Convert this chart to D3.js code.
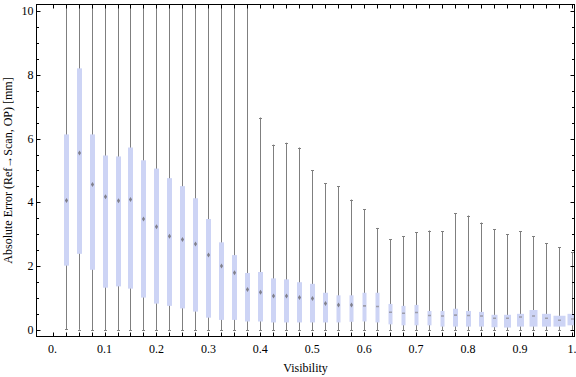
<!DOCTYPE html>
<html>
<head>
<meta charset="utf-8">
<script src="https://cdn.jsdelivr.net/npm/d3@7"></script>
<style>
  body { margin: 0; background: #fff; }
  svg { display: block; }
  text { font-family: "Liberation Serif", "Times New Roman", serif; fill: #000; }
</style>
</head>
<body>
<div id="chart"></div>
<script>
// visibility bins (x) and box-whisker statistics (mm)
const visibility = [0.025, 0.05, 0.075, 0.1, 0.125, 0.15, 0.175, 0.2, 0.225, 0.25,
                    0.275, 0.3, 0.325, 0.35, 0.375, 0.4, 0.425, 0.45, 0.475, 0.5,
                    0.525, 0.55, 0.575, 0.6, 0.625, 0.65, 0.675, 0.7, 0.725, 0.75,
                    0.775, 0.8, 0.825, 0.85, 0.875, 0.9, 0.925, 0.95, 0.975, 1.0];
const whiskerLow = [0.03, 0.01, 0, 0, 0, 0, 0, 0, 0, 0,
                    0, 0, 0, 0, 0, 0, 0, 0, 0, 0,
                    0, 0, 0, 0, 0, 0, 0, 0, 0, 0,
                    0, 0, 0, 0, 0, 0, 0, 0, 0, 0];
const q1 = [2.02, 2.39, 1.89, 1.33, 1.37, 1.30, 1.02, 0.83, 0.76, 0.68,
            0.58, 0.39, 0.32, 0.32, 0.27, 0.27, 0.24, 0.24, 0.24, 0.24,
            0.24, 0.24, 0.26, 0.27, 0.24, 0.18, 0.15, 0.15, 0.15, 0.11,
            0.11, 0.11, 0.11, 0.09, 0.08, 0.11, 0.11, 0.11, 0.11, 0.15];
const median = [4.06, 5.55, 4.56, 4.18, 4.05, 4.09, 3.48, 3.24, 2.94, 2.84,
                2.70, 2.35, 2.01, 1.80, 1.27, 1.19, 1.07, 1.07, 1.02, 0.99,
                0.83, 0.79, 0.79, 0.76, 0.74, 0.56, 0.53, 0.55, 0.46, 0.44,
                0.47, 0.46, 0.44, 0.37, 0.37, 0.41, 0.44, 0.37, 0.31, 0.35];
const q3 = [6.13, 8.20, 6.13, 5.47, 5.44, 5.72, 5.32, 5.06, 4.76, 4.51,
            4.13, 3.48, 2.75, 2.35, 1.79, 1.82, 1.62, 1.59, 1.50, 1.45,
            1.17, 1.09, 1.09, 1.17, 1.17, 0.82, 0.76, 0.79, 0.60, 0.60,
            0.67, 0.60, 0.57, 0.48, 0.48, 0.51, 0.63, 0.51, 0.45, 0.51];
// first bins run off the top of the plot
const whiskerHigh = [10.8, 10.8, 10.8, 10.8, 10.8, 10.8, 10.8, 10.8, 10.8, 10.8,
                     10.8, 10.8, 10.8, 10.8, 10.8, 6.66, 5.81, 5.87, 5.72, 5.00,
                     4.60, 4.50, 4.09, 3.78, 3.20, 2.85, 2.94, 3.07, 3.12, 3.09,
                     3.66, 3.59, 3.37, 3.16, 3.00, 3.09, 2.94, 2.72, 2.59, 2.44];

const xTickLabels = ["0.", "0.1", "0.2", "0.3", "0.4", "0.5", "0.6", "0.7", "0.8", "0.9", "1."];
const xTickValues = [0, 0.1, 0.2, 0.3, 0.4, 0.5, 0.6, 0.7, 0.8, 0.9, 1.0];
const yTickValues = [0, 2, 4, 6, 8, 10];

const W = 576, H = 377;
const m = {left: 36.5, right: 574.5, top: 4.5, bottom: 336.5};

// drawn box widths (px) as in the original rendering
const boxPx = [5, 5, 5, 5, 5, 5, 5, 5, 5, 5, 5, 5, 5, 5, 5, 5, 5, 5, 5, 5,
               5, 4, 4, 4, 4, 4, 4, 4, 4, 4, 5, 5, 5, 6, 7, 7, 8, 9, 12, 10];

const svg = d3.select("#chart").append("svg")
    .attr("width", W).attr("height", H);

const x = d3.scaleLinear().domain([-0.031, 1.005]).range([m.left, m.right]);
const y = d3.scaleLinear().domain([-0.2, 10.2]).range([m.bottom, m.top]);

svg.append("defs").append("clipPath").attr("id", "plotclip")
  .append("rect").attr("x", m.left).attr("y", m.top)
  .attr("width", m.right - m.left).attr("height", m.bottom - m.top);

const data = visibility.map((v, i) => ({
  v, lo: whiskerLow[i], q1: q1[i], med: median[i], q3: q3[i], hi: whiskerHigh[i], w: boxPx[i]
}));

const plot = svg.append("g").attr("clip-path", "url(#plotclip)");
const whiskerColor = "#7f7f7f";

const g = plot.selectAll(".bw").data(data).join("g").attr("class", "bw");

// whisker lines
g.append("line")
  .attr("x1", d => Math.round(x(d.v)) + 0.5).attr("x2", d => Math.round(x(d.v)) + 0.5)
  .attr("y1", d => y(d.lo)).attr("y2", d => y(d.hi))
  .attr("stroke", whiskerColor).attr("stroke-width", 1);

// caps
["lo", "hi"].forEach(k => {
  g.append("line")
    .attr("x1", d => Math.round(x(d.v)) - 1).attr("x2", d => Math.round(x(d.v)) + 2)
    .attr("y1", d => Math.round(y(d[k])) + 0.5).attr("y2", d => Math.round(y(d[k])) + 0.5)
    .attr("stroke", whiskerColor).attr("stroke-width", 1);
});

// boxes
g.append("rect")
  .attr("x", d => Math.round(x(d.v)) + 0.5 - d.w / 2)
  .attr("width", d => d.w)
  .attr("y", d => y(d.q3))
  .attr("height", d => y(d.q1) - y(d.q3))
  .attr("fill", "#cdd4f5");

// median markers: small diamonds on tall boxes, short dashes on flat ones
g.append("path")
  .attr("d", d => {
    const cx = Math.round(x(d.v)) + 0.5, cy = y(d.med);
    if (d.v < 0.6) return `M${cx},${cy - 2.5}L${cx + 1.6},${cy}L${cx},${cy + 2.5}L${cx - 1.6},${cy}Z`;
    return `M${cx - 1.5},${cy - 0.8}h3v1.6h-3Z`;
  })
  .attr("fill", d => d.v < 0.6 ? "#80808c" : "#9d9daa");

// frame
const frame = svg.append("g").attr("stroke", "#000").attr("stroke-width", 1).attr("fill", "none");
frame.append("rect").attr("x", m.left).attr("y", m.top)
  .attr("width", m.right - m.left).attr("height", m.bottom - m.top);

// x ticks every bin (bottom and top, pointing inward)
const xTicks = [0].concat(visibility);
xTicks.forEach(t => {
  const px = Math.round(x(t)) + 0.5;
  frame.append("line").attr("x1", px).attr("x2", px).attr("y1", m.bottom).attr("y2", m.bottom - 4);
  frame.append("line").attr("x1", px).attr("x2", px).attr("y1", m.top).attr("y2", m.top + 4);
});

// y ticks: major every 2, minor every 0.5
const yMinor = d3.range(0, 10.01, 0.5);
yMinor.forEach(t => {
  const major = yTickValues.includes(t);
  const len = major ? 4 : 2.5;
  const py = Math.round(y(t)) + 0.5;
  frame.append("line").attr("x1", m.left).attr("x2", m.left + len).attr("y1", py).attr("y2", py);
  frame.append("line").attr("x1", m.right).attr("x2", m.right - len).attr("y1", py).attr("y2", py);
});

// tick labels
svg.append("g").selectAll("text").data(xTickValues).join("text")
  .attr("x", d => x(d)).attr("y", m.bottom + 16)
  .attr("text-anchor", "middle").attr("font-size", 12)
  .text((d, i) => xTickLabels[i]);

svg.append("g").selectAll("text").data(yTickValues).join("text")
  .attr("x", m.left - 3).attr("y", d => y(d) + 4)
  .attr("text-anchor", "end").attr("font-size", 12)
  .text(d => d);

// axis titles
svg.append("text")
  .attr("x", (m.left + m.right) / 2).attr("y", 372)
  .attr("text-anchor", "middle").attr("font-size", 12)
  .text("Visibility");

svg.append("text")
  .attr("transform", `translate(12,${(m.top + m.bottom) / 2}) rotate(-90)`)
  .attr("text-anchor", "middle").attr("font-size", 12)
  .text("Absolute Error (Ref→Scan, OP) [mm]");
</script>
</body>
</html>
